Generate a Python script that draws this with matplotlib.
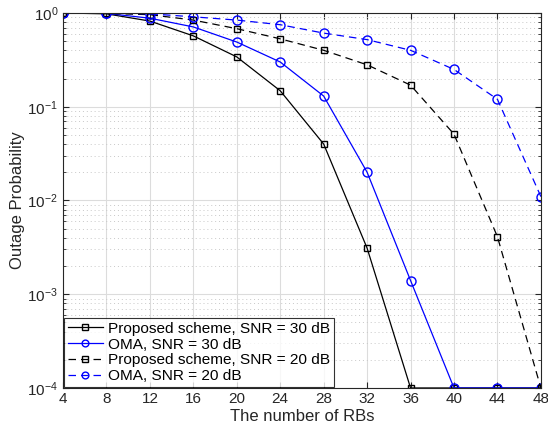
import matplotlib

matplotlib.use("Agg")

import matplotlib.pyplot as plt
import numpy as np
from matplotlib.ticker import LogLocator, NullFormatter

plt.rcParams["font.family"] = ["Liberation Sans", "DejaVu Sans"]
plt.rcParams["mathtext.fontset"] = "custom"
plt.rcParams["mathtext.rm"] = "Liberation Sans"
plt.rcParams["mathtext.it"] = "Liberation Sans"

rbs = [4, 8, 12, 16, 20, 24, 28, 32, 36, 40, 44, 48]
prop_30 = [1.0, 0.98, 0.82, 0.57, 0.34, 0.148, 0.04, 0.0031, 1e-4, 1e-4, 1e-4, 1e-4]
oma_30 = [1.0, 0.99, 0.88, 0.71, 0.49, 0.30, 0.13, 0.020, 0.0014, 1e-4, 1e-4, 1e-4]
prop_20 = [1.0, 0.99, 0.96, 0.84, 0.68, 0.53, 0.40, 0.28, 0.17, 0.051, 0.0041, 1e-4]
oma_20 = [1.0, 1.0, 0.98, 0.91, 0.84, 0.75, 0.61, 0.52, 0.40, 0.25, 0.12, 0.011]

labels = [
    "Proposed scheme, SNR = 30 dB",
    "OMA, SNR = 30 dB",
    "Proposed scheme, SNR = 20 dB",
    "OMA, SNR = 20 dB",
]

fig = plt.figure(figsize=(5.48, 4.33), dpi=100)
ax = fig.add_axes([0.115, 0.104, 0.872, 0.866])

ax.plot(rbs, prop_30, "-", color="black", marker="s", ms=5, mfc="none", lw=0.9, label=labels[0])
ax.plot(rbs, oma_30, "-", color="blue", marker="o", ms=6.5, mfc="none", lw=0.9, label=labels[1])
ax.plot(rbs, prop_20, "--", color="black", marker="s", ms=5, mfc="none", lw=0.9,
        dashes=(6, 4), label=labels[2])
ax.plot(rbs, oma_20, "--", color="blue", marker="o", ms=6.5, mfc="none", lw=0.9,
        dashes=(6, 4), label=labels[3])

ax.set_yscale("log")
ax.set_xlim(4, 48)
ax.set_ylim(1e-4, 1)
ax.set_xticks(range(4, 49, 4))
ax.yaxis.set_major_locator(LogLocator(base=10, numticks=10))
ax.yaxis.set_minor_locator(LogLocator(base=10, subs=np.arange(2, 10), numticks=10))
ax.yaxis.set_minor_formatter(NullFormatter())

ax.grid(True, which="major", color="#dcdcdc", lw=0.8, ls="-")
ax.grid(True, which="minor", axis="y", color="#c8c8c8", lw=0.7, ls=(0, (1, 3)))
ax.set_axisbelow(True)

ax.tick_params(direction="in", which="both", top=True, right=True, labelsize=11,
               colors="#262626")
ax.tick_params(which="major", length=4)
ax.tick_params(which="minor", length=2.5)
ax.tick_params(axis="x", pad=3)
for s in ax.spines.values():
    s.set_color("#262626")
    s.set_linewidth(0.8)

ax.set_xlabel("The number of RBs", fontsize=12, color="#262626", labelpad=2)
ax.set_ylabel("Outage Probability", fontsize=12, color="#262626", labelpad=2)

leg = ax.legend(loc="lower left", fontsize=11.1, frameon=True, fancybox=False,
                edgecolor="black", borderpad=0.25, labelspacing=0.12, handlelength=2.3,
                handletextpad=0.35, borderaxespad=0.05, markerscale=0.75)
leg.get_frame().set_linewidth(0.8)

fig.savefig("out.png", dpi=100)
